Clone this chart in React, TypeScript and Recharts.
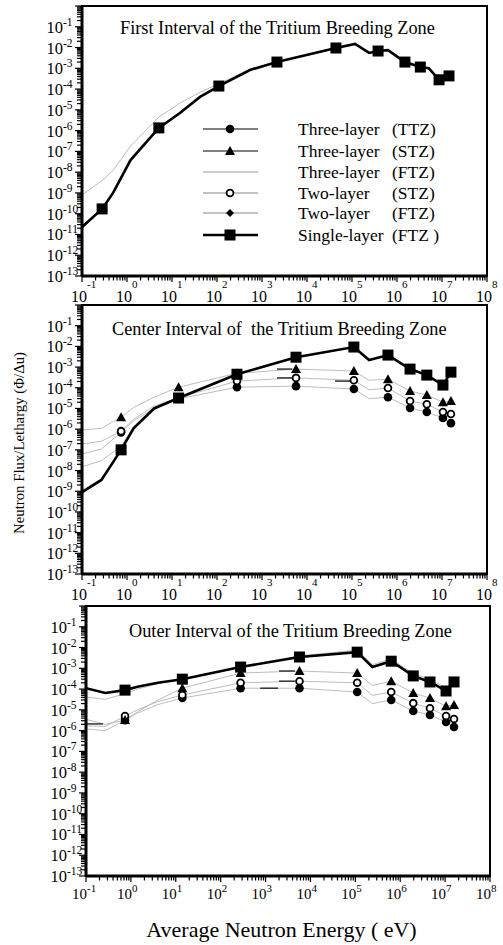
import React from 'react'
import { ComposedChart, Line, Scatter, XAxis, YAxis, ReferenceArea } from 'recharts'

// energy grids (eV)
const E1 = [0.1, 0.28, 0.49, 1.2, 5.1, 15, 42, 110, 540, 2150, 4.4e4, 1.17e5, 2.4e5, 3.8e5, 6.3e5, 1.5e6, 3.3e6, 5.1e6, 8.6e6, 1.43e7]
const MARK1 = [0, 1, 0, 0, 1, 0, 0, 1, 0, 1, 1, 0, 0, 1, 0, 1, 1, 0, 1, 1]
const E2 = [0.1, 0.27, 0.74, 1.4, 4, 14, 278, 5700, 1.1e5, 2.4e5, 6.3e5, 1.95e6, 4.6e6, 1.05e7, 1.58e7]
const MARK2 = [0, 0, 1, 0, 0, 1, 1, 1, 1, 0, 1, 1, 1, 1, 1]

// first interval
const P1_TTZ3 = [1.9e-11, 1.6e-10, 9.5e-10, 3.6e-8, 1.3e-6, 6.8e-6, 4.1e-5, 1.35e-4, 8.1e-4, 1.95e-3, 9.3e-3, 1.45e-2, 5.4e-3, 6.6e-3, 7.3e-3, 1.95e-3, 1.12e-3, 9.8e-4, 2.75e-4, 4.2e-4]
const P1_STZ3 = [2.1e-11, 1.65e-10, 1.0e-9, 3.7e-8, 1.32e-6, 6.9e-6, 4.15e-5, 1.38e-4, 8.2e-4, 1.98e-3, 9.4e-3, 1.48e-2, 5.45e-3, 6.7e-3, 7.4e-3, 1.98e-3, 1.14e-3, 9.9e-4, 2.78e-4, 4.25e-4]
const P1_FTZ3 = [8e-10, 4e-9, 1.2e-8, 1.8e-7, 4.5e-6, 2.1e-5, 7e-5, 1.8e-4, 9e-4, 2.1e-3, 9.8e-3, 1.5e-2, 5.8e-3, 7e-3, 7.6e-3, 2.1e-3, 1.2e-3, 1.05e-3, 3e-4, 4.5e-4]
const P1_STZ2 = [2.2e-11, 1.7e-10, 1.0e-9, 3.8e-8, 1.34e-6, 7e-6, 4.2e-5, 1.4e-4, 8.3e-4, 2.0e-3, 9.5e-3, 1.5e-2, 5.5e-3, 6.8e-3, 7.5e-3, 2.0e-3, 1.15e-3, 1.0e-3, 2.8e-4, 4.3e-4]
const P1_FTZ2 = [2.3e-11, 1.7e-10, 1.0e-9, 3.8e-8, 1.35e-6, 7e-6, 4.2e-5, 1.4e-4, 8.3e-4, 2.0e-3, 9.5e-3, 1.5e-2, 5.5e-3, 6.8e-3, 7.5e-3, 2.0e-3, 1.15e-3, 1.0e-3, 2.8e-4, 4.3e-4]
const P1_SINGLE = [2.3e-11, 1.7e-10, 1.0e-9, 3.8e-8, 1.35e-6, 7e-6, 4.2e-5, 1.4e-4, 8.3e-4, 2.0e-3, 9.5e-3, 1.5e-2, 5.5e-3, 6.8e-3, 7.5e-3, 2.0e-3, 1.15e-3, 1.0e-3, 2.8e-4, 4.3e-4]

// center interval
const P2_TTZ3 = [6.3e-8, 1.1e-7, 7e-7, 2.5e-6, 1e-5, 2.9e-5, 1.07e-4, 1.2e-4, 8.7e-5, 3e-5, 3.5e-5, 1.05e-5, 6.7e-6, 3.5e-6, 1.95e-6]
const P2_STZ3 = [9e-7, 1.1e-6, 3.8e-6, 1.1e-5, 3.5e-5, 1.07e-4, 5e-4, 8e-4, 6.5e-4, 2.3e-4, 2.6e-4, 6.9e-5, 4.5e-5, 2e-5, 2.3e-5]
const P2_FTZ3 = [1.5e-8, 3e-8, 1.5e-7, 1.3e-6, 1e-5, 3e-5, 4.2e-4, 2.8e-3, 8.8e-3, 2.1e-3, 3.6e-3, 7.6e-4, 3.9e-4, 1.3e-4, 5.4e-4]
const P2_STZ2 = [1.9e-7, 2.6e-7, 8e-7, 3e-6, 1.3e-5, 3.3e-5, 2.1e-4, 3e-4, 2.3e-4, 8e-5, 9.7e-5, 2.3e-5, 1.6e-5, 6.7e-6, 5.4e-6]
const P2_FTZ2 = [1.1e-9, 4e-9, 1.0e-7, 1.1e-6, 1e-5, 3.1e-5, 4.4e-4, 2.9e-3, 9.1e-3, 2.15e-3, 3.7e-3, 7.8e-4, 4e-4, 1.32e-4, 5.6e-4]
const P2_SINGLE = [9e-10, 3.5e-9, 1.0e-7, 1.1e-6, 1e-5, 3.2e-5, 4.5e-4, 3e-3, 9.3e-3, 2.2e-3, 3.8e-3, 8e-4, 4.1e-4, 1.35e-4, 5.7e-4]

// outer interval
const P3_TTZ3 = [1.2e-6, 1e-6, 3.2e-6, 7e-6, 1.8e-5, 3.7e-5, 1.1e-4, 1.1e-4, 7.2e-5, 2e-5, 3e-5, 8.8e-6, 5.7e-6, 2.6e-6, 1.5e-6]
const P3_STZ3 = [3.5e-6, 2e-6, 3.2e-6, 8e-6, 3e-5, 1.1e-4, 5.9e-4, 7.4e-4, 5.9e-4, 1.5e-4, 2.4e-4, 6.5e-5, 3.7e-5, 1.5e-5, 1.7e-5]
const P3_FTZ3 = [4.2e-5, 3.2e-5, 6e-5, 1e-4, 1.8e-4, 3e-4, 1.2e-3, 4e-3, 7.5e-3, 1.5e-3, 2.8e-3, 5.5e-4, 2.9e-4, 1.1e-4, 2.9e-4]
const P3_STZ2 = [1.7e-6, 1.6e-6, 5e-6, 1e-5, 2.5e-5, 5.2e-5, 2e-4, 2.4e-4, 2e-4, 5e-5, 7.2e-5, 2.1e-5, 1.2e-5, 5e-6, 3.6e-6]
const P3_FTZ2 = [1.05e-4, 6.3e-5, 8.7e-5, 1.3e-4, 2e-4, 2.9e-4, 1.12e-3, 3.4e-3, 5.9e-3, 1.12e-3, 2.15e-3, 4.2e-4, 2.15e-4, 7.9e-5, 2.15e-4]
const P3_SINGLE = [1.1e-4, 6.5e-5, 8.9e-5, 1.3e-4, 2e-4, 3e-4, 1.15e-3, 3.5e-3, 6e-3, 1.15e-3, 2.2e-3, 4.3e-4, 2.2e-4, 8.1e-5, 2.2e-4]

// short black stubs left in the original figure: [from eV, to eV, value]
const STUBS2 = [[2150, 4700, 8e-4], [2150, 4700, 3e-4], [4.2e4, 9e4, 2.1e-4]]
const STUBS3 = [[0.1, 0.24, 2.1e-6], [2000, 4500, 7.4e-4], [2000, 4500, 2.4e-4], [760, 1900, 1.1e-4]]

const X_DECADES = [-1, 0, 1, 2, 3, 4, 5, 6, 7, 8]
const Y_DECADES = [-13, -12, -11, -10, -9, -8, -7, -6, -5, -4, -3, -2, -1, 0]
const MINORS = [2, 3, 4, 5, 6, 7, 8, 9]

const LEGEND_NAMES = ['Three-layer', 'Three-layer', 'Three-layer', 'Two-layer', 'Two-layer', 'Single-layer']
const LEGEND_ZONES = ['(TTZ)', '(STZ)', '(FTZ)', '(STZ)', '(FTZ)', '(FTZ )']

const FONT = '"Liberation Serif", "Times New Roman", serif'
const GREY = '#bdbdbd'

const logTicks = (decs: number[]) => {
  const out: number[] = []
  decs.forEach((d, i) => {
    out.push(Math.pow(10, d))
    if (i < decs.length - 1) MINORS.forEach((m) => out.push(m * Math.pow(10, d)))
  })
  return out
}
const X_TICKS = logTicks(X_DECADES)
const Y_TICKS = logTicks(Y_DECADES)

const decadeOf = (v: number) => {
  const l = Math.log10(v)
  const r = Math.round(l)
  return Math.abs(l - r) < 1e-6 ? r : null
}

const YTick = ({ x, y, payload }: any) => {
  const e = decadeOf(payload.value)
  return (
    <g>
      <line x1={x - (e !== null ? 7 : 5)} x2={x} y1={y} y2={y} stroke="#000" strokeWidth={1.2} />
      {e !== null && e < 0 && (
        <g fontFamily={FONT} fill="#000">
          <text x={x - 19} y={y + 6} textAnchor="end" fontSize={16.5}>10</text>
          <text x={x - 19} y={y - 1} textAnchor="start" fontSize={11.5}>{e}</text>
        </g>
      )}
    </g>
  )
}

const XTick = ({ x, y, payload, split }: any) => {
  const e = decadeOf(payload.value)
  return (
    <g>
      <line x1={x} x2={x} y1={y} y2={y + (e !== null ? 6 : 4.5)} stroke="#000" strokeWidth={1.2} />
      {e !== null && (split ? (
        <g fontFamily={FONT} fill="#000">
          <text x={x - 3} y={y + 26} textAnchor="middle" fontSize={16}>10</text>
          <text x={x + 5} y={y + 12} textAnchor="start" fontSize={11}>{e}</text>
        </g>
      ) : (
        <g fontFamily={FONT} fill="#000">
          <text x={x + 1} y={y + 23} textAnchor="end" fontSize={15}>10</text>
          <text x={x + 1} y={y + 16} textAnchor="start" fontSize={11}>{e}</text>
        </g>
      ))}
    </g>
  )
}

const Marker = ({ cx, cy, kind }: any) => {
  if (cx == null || cy == null) return null
  switch (kind) {
    case 'square':
      return <rect x={cx - 5.5} y={cy - 5.5} width={11} height={11} fill="#000" />
    case 'circle':
      return <circle cx={cx} cy={cy} r={4.3} fill="#000" />
    case 'open':
      return <circle cx={cx} cy={cy} r={3.4} fill="#fff" stroke="#000" strokeWidth={1.8} />
    case 'triangle':
      return <polygon points={`${cx},${cy - 5} ${cx - 5},${cy + 4} ${cx + 5},${cy + 4}`} fill="#000" />
    case 'diamond':
      return <polygon points={`${cx},${cy - 4} ${cx - 4},${cy} ${cx},${cy + 4} ${cx + 4},${cy}`} fill="#000" />
    default:
      return null
  }
}

const pts = (e: number[], v: number[]) => e.map((x, i) => ({ x, y: v[i] }))
const marked = (e: number[], v: number[], m: number[]) => pts(e, v).filter((_, i) => m[i] === 1)

interface PanelProps {
  top: number
  plotTop: number
  plotBottom: number
  plotLeft: number
  plotRight: number
  energies: number[]
  marks: number[]
  ttz3: number[]
  stz3: number[]
  ftz3: number[]
  stz2: number[]
  ftz2: number[]
  single: number[]
  stubs: number[][]
  split: boolean
  title: string
  titleX: number
  titleY: number
}

function Panel(p: PanelProps) {
  const H = 310
  const grey = [p.ftz3, p.ftz2, p.ttz3, p.stz3, p.stz2]
  const markers: [number[], string][] = [
    [p.ftz2, 'diamond'],
    [p.ttz3, 'circle'],
    [p.stz2, 'open'],
    [p.stz3, 'triangle'],
    [p.single, 'square'],
  ]
  return (
    <div style={{ position: 'absolute', left: 0, top: p.top, width: 503, height: H }}>
      <ComposedChart
        width={503}
        height={H}
        margin={{ top: p.plotTop, right: 503 - p.plotRight, bottom: H - p.plotBottom - 30, left: p.plotLeft - 60 }}
      >
        <XAxis
          type="number"
          dataKey="x"
          scale="log"
          domain={[0.1, 1e8]}
          allowDataOverflow
          ticks={X_TICKS}
          interval={0}
          height={30}
          tickSize={0}
          tickMargin={0}
          tickLine={false}
          axisLine={{ stroke: '#000', strokeWidth: 3 }}
          tick={<XTick split={p.split} />}
        />
        <YAxis
          type="number"
          dataKey="y"
          scale="log"
          domain={[1e-13, 1]}
          allowDataOverflow
          ticks={Y_TICKS}
          interval={0}
          width={60}
          tickSize={0}
          tickMargin={0}
          tickLine={false}
          axisLine={{ stroke: '#000', strokeWidth: 3 }}
          tick={<YTick />}
        />
        <ReferenceArea x1={0.1} x2={1e8} y1={1e-13} y2={1} fill="none" stroke="#000" strokeWidth={2} ifOverflow="visible" />
        {grey.map((v, i) => (
          <Line
            key={'g' + i}
            data={pts(p.energies, v)}
            dataKey="y"
            type="linear"
            stroke={GREY}
            strokeWidth={1}
            dot={false}
            isAnimationActive={false}
          />
        ))}
        {p.stubs.map((s, i) => (
          <Line
            key={'s' + i}
            data={[{ x: s[0], y: s[2] }, { x: s[1], y: s[2] }]}
            dataKey="y"
            stroke="#333"
            strokeWidth={1.5}
            dot={false}
            isAnimationActive={false}
          />
        ))}
        <Line
          data={pts(p.energies, p.single)}
          dataKey="y"
          type="linear"
          stroke="#000"
          strokeWidth={2.6}
          dot={false}
          isAnimationActive={false}
        />
        {markers.map(([v, kind]) => (
          <Scatter
            key={kind}
            data={marked(p.energies, v, p.marks)}
            isAnimationActive={false}
            shape={(sp: any) => <Marker {...sp} kind={kind} />}
          />
        ))}
      </ComposedChart>
      <div
        style={{
          position: 'absolute',
          left: p.titleX,
          top: p.titleY - 11,
          fontFamily: FONT,
          fontSize: 18.3,
          lineHeight: '22px',
          whiteSpace: 'pre',
          color: '#000',
        }}
      >
        {p.title}
      </div>
    </div>
  )
}

function Legend() {
  const kinds = ['circle', 'triangle', '', 'open', 'diamond', 'square']
  const lineColors = ['#000', '#000', '#999', '#888', '#888', '#000']
  const rowY = [129, 151, 172, 193, 213, 235]
  return (
    <svg style={{ position: 'absolute', left: 0, top: 0 }} width={503} height={300}>
      {rowY.map((y, i) => (
        <g key={i}>
          <line x1={203} x2={258} y1={y} y2={y} stroke={lineColors[i]} strokeWidth={i === 5 ? 2.6 : 1.2} />
          <Marker cx={230} cy={y} kind={kinds[i]} />
          <text x={298} y={y + 5.5} fontFamily={FONT} fontSize={17.5} fill="#000">{LEGEND_NAMES[i]}</text>
          <text x={392} y={y + 5.5} fontFamily={FONT} fontSize={17.5} fill="#000">{LEGEND_ZONES[i]}</text>
        </g>
      ))}
    </svg>
  )
}

export default function App() {
  return (
    <div style={{ position: 'absolute', left: 0, top: 0, width: 503, height: 945, background: '#fff' }}>
      <Panel
        top={0}
        plotTop={6}
        plotBottom={276}
        plotLeft={82}
        plotRight={487}
        energies={E1}
        marks={MARK1}
        ttz3={P1_TTZ3}
        stz3={P1_STZ3}
        ftz3={P1_FTZ3}
        stz2={P1_STZ2}
        ftz2={P1_FTZ2}
        single={P1_SINGLE}
        stubs={[]}
        split
        title="First Interval of the Tritium Breeding Zone"
        titleX={120}
        titleY={28}
      />
      <Legend />
      <Panel
        top={300}
        plotTop={5}
        plotBottom={274}
        plotLeft={82}
        plotRight={487}
        energies={E2}
        marks={MARK2}
        ttz3={P2_TTZ3}
        stz3={P2_STZ3}
        ftz3={P2_FTZ3}
        stz2={P2_STZ2}
        ftz2={P2_FTZ2}
        single={P2_SINGLE}
        stubs={STUBS2}
        split
        title="Center Interval of  the Tritium Breeding Zone"
        titleX={112}
        titleY={29}
      />
      <Panel
        top={600}
        plotTop={6}
        plotBottom={276}
        plotLeft={86}
        plotRight={490}
        energies={E2}
        marks={MARK2}
        ttz3={P3_TTZ3}
        stz3={P3_STZ3}
        ftz3={P3_FTZ3}
        stz2={P3_STZ2}
        ftz2={P3_FTZ2}
        single={P3_SINGLE}
        stubs={STUBS3}
        split={false}
        title="Outer Interval of the Tritium Breeding Zone"
        titleX={129}
        titleY={31}
      />
      <div
        style={{
          position: 'absolute',
          left: 19,
          top: 443,
          transform: 'translate(-50%, -50%) rotate(-90deg)',
          fontFamily: FONT,
          fontSize: 14.8,
          whiteSpace: 'nowrap',
          color: '#000',
        }}
      >
        Neutron Flux/Lethargy (Φ/Δu)
      </div>
      <div
        style={{
          position: 'absolute',
          left: 0,
          width: 563,
          top: 917,
          textAlign: 'center',
          fontFamily: FONT,
          fontSize: 22,
          lineHeight: '26px',
          color: '#000',
        }}
      >
        Average Neutron Energy ( eV)
      </div>
    </div>
  )
}
